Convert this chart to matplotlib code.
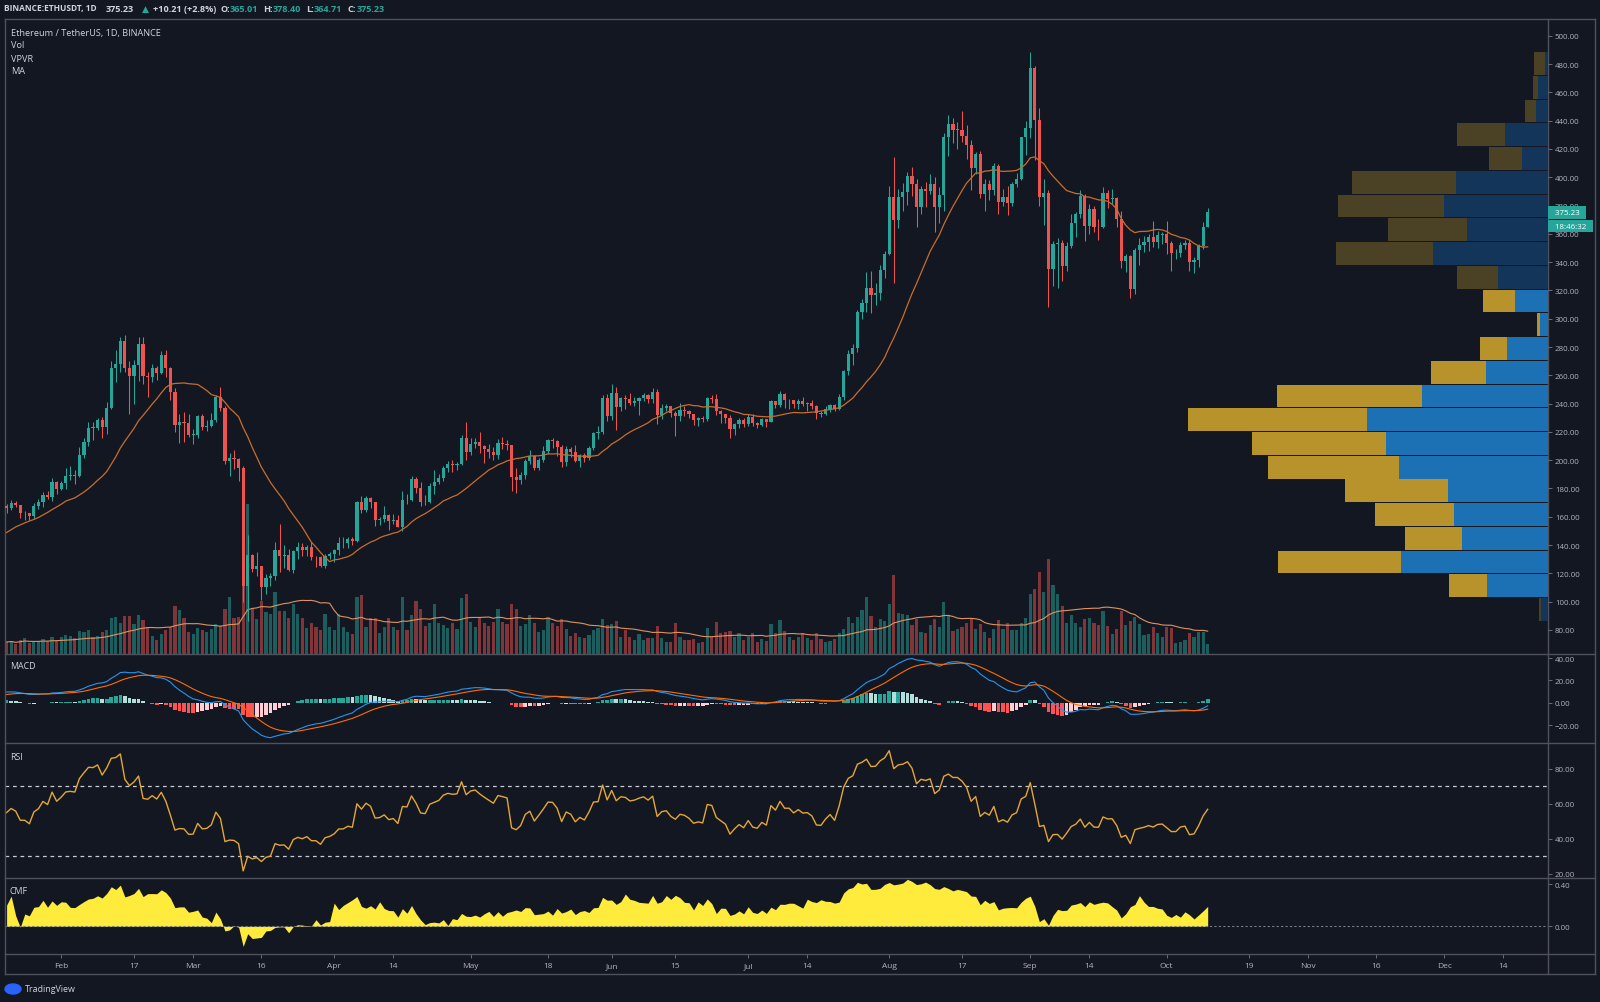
import numpy as np
import pandas as pd
import matplotlib
matplotlib.use("Agg")
import matplotlib.pyplot as plt
import matplotlib.dates as mdates
import matplotlib.transforms as mtransforms
from matplotlib.lines import Line2D
from matplotlib.patches import Ellipse
from matplotlib.ticker import StrMethodFormatter

plt.rcParams['font.family'] = ['Open Sans', 'DejaVu Sans']

BG = '#131722'
LINE = '#4f525d'
TXT = '#b2b5be'
UP = '#26a69a'
DOWN = '#ef5350'

# ---------------- data: Binance ETHUSDT, 1D ----------------
# closes before the first visible candle, only used to warm up MA / MACD / RSI
warmup_close = [130.8, 127.2, 134.3, 134.0, 135.1, 144.2, 142.8, 140.7, 137.7, 144.1,
                142.3, 146.5, 143.6, 165.6, 166.4, 163.8, 170.8, 174.0, 167.3]
start_date = '2020-01-20'

close = [
    # Jan 20-31
    166.4, 169.5, 168.0, 162.5, 162.5, 160.4, 167.8, 170.1, 175.6, 174.0, 184.7, 179.9,
    # Feb
    183.6, 188.6, 189.2, 188.9, 203.8, 212.7, 223.1, 223.0, 228.4, 223.5,
    236.8, 265.3, 268.3, 284.2, 264.9, 259.4, 267.4, 282.3, 259.6, 258.6,
    265.4, 261.9, 274.5, 265.0, 248.1, 224.9, 227.1, 226.5, 217.9,
    # Mar
    218.1, 231.3, 223.5, 224.1, 228.2, 244.7, 237.0, 199.4, 201.4, 200.7,
    194.6, 111.0, 133.2, 123.3, 125.2, 110.6, 116.7, 118.4, 136.5, 132.5,
    132.9, 122.5, 135.7, 138.9, 136.2, 138.9, 131.4, 131.3, 125.0, 132.1, 133.5,
    # Apr
    136.2, 141.3, 141.4, 144.0, 142.9, 170.1, 164.7, 173.1, 170.1, 157.8,
    158.4, 161.5, 156.7, 157.9, 153.1, 172.0, 171.6, 186.9, 180.3, 170.8,
    170.2, 182.1, 184.8, 187.3, 194.7, 197.3, 196.6, 197.2, 215.5, 205.9,
    # May
    211.6, 213.1, 210.3, 208.0, 205.9, 203.9, 212.4, 211.7, 210.9, 187.8,
    185.9, 189.4, 199.5, 202.7, 194.3, 200.0, 206.4, 214.1, 213.9, 209.6,
    198.5, 208.0, 206.1, 199.4, 203.5, 201.3, 208.6, 219.5, 219.9, 243.9, 231.5,
    # Jun
    247.3, 237.5, 244.2, 243.6, 240.4, 241.6, 244.2, 246.0, 243.6, 248.4,
    231.9, 237.2, 238.2, 233.4, 230.9, 235.5, 234.7, 232.4, 228.6, 229.6,
    228.9, 243.8, 243.2, 234.9, 232.4, 229.9, 221.7, 225.3, 228.3, 225.9,
    # Jul
    230.8, 226.0, 225.2, 228.9, 227.1, 241.6, 238.7, 246.7, 242.3, 242.3,
    239.4, 241.9, 239.9, 240.2, 238.4, 233.2, 233.0, 236.4, 239.0, 236.0,
    245.0, 262.7, 274.9, 279.2, 305.0, 311.0, 321.7, 317.0, 317.9, 334.4, 345.6,
    # Aug
    386.3, 370.0, 386.4, 389.4, 400.9, 394.9, 378.8, 391.8, 390.6, 395.1,
    379.3, 387.7, 428.6, 437.4, 433.4, 433.4, 429.5, 422.9, 406.5, 416.4,
    388.0, 395.5, 391.3, 408.0, 382.3, 386.3, 382.0, 395.0, 399.0, 428.3, 434.6,
    # Sep
    477.0, 440.2, 385.8, 388.6, 335.1, 352.9, 353.3, 337.4, 351.5, 368.0,
    373.9, 387.0, 365.6, 377.6, 365.2, 364.8, 389.2, 384.7, 385.1, 370.5,
    340.5, 344.3, 320.9, 348.9, 352.0, 354.2, 357.5, 354.4, 359.1, 359.8,
    # Oct 1-10
    353.2, 346.2, 346.2, 352.4, 353.6, 340.2, 341.2, 351.1, 365.01, 375.23,
]

high = [
    168.8, 171.6, 171.0, 168.2, 164.0, 163.0, 169.5, 172.8, 177.5, 178.0, 187.2, 185.6,
    185.0, 194.8, 195.9, 193.0, 209.0, 215.9, 227.0, 227.0, 230.0, 230.8,
    241.0, 270.0, 278.0, 287.0, 288.4, 270.0, 271.0, 287.0, 287.0, 262.5,
    268.3, 266.4, 277.0, 278.0, 266.0, 251.0, 232.5, 234.0, 233.0,
    222.0, 232.3, 232.8, 228.5, 233.3, 245.9, 251.7, 238.0, 205.0, 207.0,
    201.6, 196.0, 147.0, 134.0, 135.0, 125.5, 119.5, 120.0, 142.0, 155.0,
    140.0, 137.5, 136.5, 142.5, 141.5, 140.0, 142.0, 132.0, 132.5, 133.5, 135.0,
    137.0, 146.0, 145.8, 146.0, 146.0, 171.5, 175.0, 174.8, 174.0, 170.5,
    160.0, 167.4, 161.9, 162.3, 161.5, 178.2, 176.0, 189.0, 188.0, 184.5,
    175.5, 183.7, 193.0, 190.0, 196.0, 199.5, 200.0, 198.7, 218.0, 227.0,
    216.0, 215.5, 219.8, 211.0, 211.5, 209.5, 215.0, 216.5, 214.0, 211.0,
    194.5, 191.5, 201.0, 207.0, 203.5, 201.5, 210.0, 215.0, 216.0, 214.5,
    210.5, 210.0, 209.0, 211.0, 204.5, 205.0, 210.0, 220.0, 224.0, 246.0, 246.5,
    253.8, 252.0, 245.0, 246.0, 247.3, 245.0, 245.0, 247.5, 247.0, 251.1,
    250.0, 240.0, 239.8, 238.5, 234.6, 240.5, 238.0, 235.5, 233.0, 230.5,
    231.5, 245.0, 246.2, 247.0, 235.8, 233.0, 232.0, 226.5, 230.0, 229.5,
    232.5, 232.5, 227.0, 230.0, 229.0, 242.5, 242.0, 248.7, 247.8, 243.0,
    242.5, 243.0, 245.0, 241.4, 242.5, 238.8, 235.0, 238.0, 240.0, 240.0,
    246.8, 264.0, 278.0, 282.0, 306.0, 314.0, 333.0, 334.0, 325.0, 338.0, 348.0,
    394.0, 414.0, 392.0, 396.0, 404.0, 407.0, 399.0, 393.5, 397.0, 402.5,
    400.0, 393.0, 431.5, 444.0, 442.0, 439.0, 447.0, 437.0, 426.5, 418.0,
    418.5, 398.7, 398.0, 410.0, 409.5, 391.5, 394.0, 396.5, 403.0, 428.5, 440.0,
    488.84, 479.0, 449.0, 399.0, 391.0, 355.0, 357.0, 355.5, 354.0, 374.0,
    375.5, 391.0, 388.0, 381.0, 380.0, 370.5, 393.0, 391.0, 391.5, 386.0,
    376.0, 346.0, 345.0, 350.0, 357.0, 358.5, 360.0, 369.0, 362.0, 361.0,
    369.0, 355.0, 349.5, 354.0, 355.5, 356.0, 343.5, 353.0, 368.5, 378.40,
]

low = [
    162.8, 165.0, 166.6, 159.3, 158.0, 157.8, 158.5, 165.8, 166.7, 172.3, 170.9, 176.4,
    178.8, 179.5, 186.0, 183.4, 188.0, 201.8, 210.0, 214.0, 221.0, 216.0,
    218.5, 236.0, 255.0, 262.0, 262.2, 233.0, 240.0, 256.2, 254.0, 244.5,
    255.1, 256.5, 260.7, 259.0, 242.9, 220.0, 212.0, 213.0, 216.5,
    211.5, 216.0, 221.5, 220.3, 223.5, 226.8, 235.0, 197.5, 188.5, 194.0,
    185.0, 100.0, 86.0, 121.0, 118.0, 101.3, 105.6, 111.0, 115.0, 121.0,
    124.0, 122.0, 120.5, 130.5, 132.0, 132.5, 129.8, 124.7, 124.5, 123.5, 130.0,
    128.0, 133.0, 138.0, 137.6, 140.1, 142.5, 162.5, 163.6, 166.0, 153.5,
    154.0, 156.3, 150.5, 155.2, 152.5, 149.6, 169.2, 170.9, 177.0, 167.7,
    168.0, 169.5, 176.4, 183.2, 185.0, 192.0, 191.8, 192.8, 196.5, 200.0,
    204.0, 208.5, 205.0, 198.0, 201.5, 200.0, 201.0, 207.6, 207.5, 178.0,
    177.0, 183.5, 187.0, 197.0, 193.0, 193.0, 199.0, 204.7, 208.9, 203.0,
    195.0, 196.2, 202.5, 198.5, 195.5, 198.5, 200.0, 207.5, 215.0, 218.5, 228.0,
    228.5, 221.0, 234.5, 236.5, 239.3, 238.0, 232.0, 241.5, 240.3, 240.2,
    225.5, 229.2, 234.5, 230.5, 217.0, 228.0, 231.0, 230.0, 225.0, 224.5,
    227.0, 228.0, 240.5, 232.0, 226.0, 226.5, 216.0, 217.8, 222.5, 223.5,
    224.5, 224.0, 223.0, 224.5, 223.5, 227.0, 237.0, 237.7, 237.0, 236.0,
    237.0, 236.5, 238.0, 234.5, 236.0, 229.0, 230.5, 232.0, 233.8, 234.8,
    235.5, 242.5, 260.0, 267.0, 276.6, 300.0, 305.0, 304.0, 310.0, 313.5, 329.0,
    345.0, 325.0, 364.0, 376.0, 380.5, 387.0, 365.0, 374.0, 379.0, 388.0,
    361.0, 368.0, 376.0, 415.0, 424.0, 420.0, 425.0, 413.0, 391.0, 402.5,
    385.6, 376.0, 384.0, 387.8, 374.0, 380.0, 373.0, 380.0, 393.0, 398.0, 416.0,
    428.0, 412.0, 380.0, 366.0, 308.0, 323.0, 322.0, 327.0, 334.0, 350.0,
    358.0, 371.0, 355.0, 360.0, 361.5, 356.0, 364.0, 378.6, 381.0, 365.0,
    336.0, 333.0, 315.0, 317.7, 338.0, 347.0, 348.0, 351.0, 350.0, 352.5,
    346.0, 333.5, 342.5, 343.5, 349.0, 334.0, 332.0, 336.5, 349.0, 364.71,
]

# daily volume, relative units
volume = [
    12, 13, 10, 14, 16, 11, 12, 13, 15, 13, 17, 14,
    17, 19, 18, 16, 23, 22, 24, 17, 18, 22, 24, 36, 37, 31, 38, 38, 30, 39, 34, 26,
    18, 14, 20, 24, 27, 48, 44, 36, 22,
    20, 26, 24, 22, 25, 30, 28, 45, 57, 36, 37, 165, 150, 46, 35, 53, 42, 40, 62, 43,
    43, 36, 50, 40, 36, 26, 31, 27, 24, 40, 27,
    24, 40, 27, 22, 20, 57, 59, 27, 36, 36, 21, 27, 36, 27, 24, 57, 24, 39, 53, 45,
    28, 31, 50, 31, 29, 26, 31, 25, 56, 60,
    32, 27, 37, 31, 28, 32, 45, 32, 30, 50, 45, 28, 30, 39, 31, 22, 24, 37, 31, 28,
    35, 25, 18, 21, 17, 16, 19, 24, 26, 35, 29,
    30, 33, 17, 24, 17, 14, 20, 14, 16, 16, 28, 16, 12, 12, 31, 17, 14, 14, 15, 11,
    12, 26, 17, 32, 21, 22, 23, 17, 21, 14,
    17, 21, 12, 15, 13, 30, 21, 34, 23, 17, 14, 17, 21, 16, 14, 21, 15, 12, 13, 15,
    21, 25, 37, 31, 37, 44, 57, 38, 27, 35, 33,
    50, 79, 41, 40, 39, 29, 35, 22, 21, 29, 35, 27, 52, 39, 23, 25, 27, 31, 36, 25,
    30, 22, 16, 25, 34, 25, 31, 24, 24, 31, 36,
    60, 65, 82, 62, 95, 69, 60, 48, 31, 39, 31, 27, 35, 36, 31, 29, 43, 28, 20, 25,
    43, 29, 33, 37, 30, 19, 20, 27, 21, 17,
    27, 26, 11, 12, 14, 21, 17, 22, 22, 10,
]

# volume profile (visible range), 24 rows from lowest low to highest high
vp_up = [7, 61, 147, 86, 94, 100, 149, 162, 181, 126, 62, 41,
         8, 33, 50, 115, 81, 104, 92, 26, 43, 12, 10, 3]
vp_down = [2, 38, 123, 57, 79, 103, 131, 134, 179, 145, 55, 27,
           3, 32, 41, 97, 79, 106, 104, 33, 48, 11, 5, 11]
value_area = (1, 13)  # first / last row of the value area

tick_dates = ['2020-02-01', '2020-02-17', '2020-03-01', '2020-03-16', '2020-04-01',
              '2020-04-14', '2020-05-01', '2020-05-18', '2020-06-01', '2020-06-15',
              '2020-07-01', '2020-07-14', '2020-08-01', '2020-08-17', '2020-09-01',
              '2020-09-14', '2020-10-01', '2020-10-19', '2020-11-01', '2020-11-16',
              '2020-12-01', '2020-12-14']

assert len(close) == len(high) == len(low) == len(volume)

# ---------------- indicators ----------------
n_warm = len(warmup_close)
all_close = pd.Series(warmup_close + close)
ma20 = all_close.rolling(20).mean().iloc[n_warm:].to_numpy()
ema12 = all_close.ewm(span=12, adjust=False).mean()
ema26 = all_close.ewm(span=26, adjust=False).mean()
macd_all = ema12 - ema26
signal_all = macd_all.ewm(span=9, adjust=False).mean()
macd = macd_all.iloc[n_warm:].to_numpy()
signal = signal_all.iloc[n_warm:].to_numpy()
hist = macd - signal

delta = all_close.diff()
gain = delta.clip(lower=0).ewm(alpha=1 / 14, adjust=False).mean()
loss = (-delta.clip(upper=0)).ewm(alpha=1 / 14, adjust=False).mean()
rsi = (100 - 100 / (1 + gain / loss)).iloc[n_warm:].to_numpy()

c = np.array(close)
h = np.array(high)
l = np.array(low)
v = np.array(volume, dtype=float)
o = np.concatenate([[warmup_close[-1]], c[:-1]])
mfv = ((c - l) - (h - c)) / (h - l) * v
cmf = (pd.Series(mfv).rolling(20, min_periods=1).sum()
       / pd.Series(v).rolling(20, min_periods=1).sum()).to_numpy()
vol_ma = pd.Series(v).rolling(20, min_periods=1).mean().to_numpy()

dates = pd.date_range(start_date, periods=len(close), freq='D')
x = mdates.date2num(dates)
up = c >= o
colors = np.where(up, UP, DOWN)

# ---------------- layout ----------------
W, H = 1600, 1003
fig = plt.figure(figsize=(W / 100, H / 100), dpi=100, facecolor=BG)
X0, X1, XR = 5, 1548, 1595
Y_TOP, Y_P, Y_M, Y_R, Y_C, Y_T = 20.4, 655, 744.3, 879, 955, 975


def box(y0, y1):
    return [X0 / W, 1 - y1 / H, (X1 - X0) / W, (y1 - y0) / H]


ax_vol = fig.add_axes(box(Y_TOP, Y_P), zorder=1)
ax = fig.add_axes(box(Y_TOP, Y_P), sharex=ax_vol, zorder=2)
ax_vp = fig.add_axes(box(Y_TOP, Y_P), zorder=3)
ax_macd = fig.add_axes(box(Y_P, Y_M), sharex=ax_vol)
ax_rsi = fig.add_axes(box(Y_M, Y_R), sharex=ax_vol)
ax_cmf = fig.add_axes(box(Y_R, Y_C), sharex=ax_vol)

feb1 = mdates.date2num(pd.Timestamp('2020-02-01'))
ax_vol.set_xlim(feb1 - 12.35, feb1 + 326.8)

for a in (ax_vol, ax, ax_vp, ax_macd, ax_rsi, ax_cmf):
    a.set_facecolor(BG)
    for s in a.spines.values():
        s.set_visible(False)
    a.tick_params(axis='x', bottom=False, labelbottom=False)
    a.yaxis.tick_right()
    a.tick_params(axis='y', colors='#787b86', labelcolor=TXT, labelsize=5.7,
                  length=3, width=0.6, pad=2)
ax.patch.set_visible(False)
ax_vp.patch.set_visible(False)
ax_vol.set_yticks([])
ax_vp.set_xticks([])
ax_vp.set_yticks([])

# price pane
p_lim = (63.0, 511.6)
ax.set_ylim(p_lim)
ax.set_yticks(np.arange(80, 501, 20))
ax.yaxis.set_major_formatter(StrMethodFormatter('{x:.2f}'))
ax.vlines(x, l, h, colors=colors, lw=0.75)
ax.bar(x, np.maximum(np.abs(c - o), 0.4), bottom=np.minimum(o, c), width=0.7,
       color=colors, lw=0)
ax.plot(x, ma20, color='#c96d2c', lw=0.9)

# volume
ax_vol.bar(x, v, width=0.7, color=colors, alpha=0.5, lw=0)
ax_vol.plot(x, vol_ma, color='#e0935c', lw=0.8)
ax_vol.set_ylim(0, 635)

# VPVR
edges = np.linspace(l.min(), h.max(), len(vp_up) + 1)
row_h = edges[1] - edges[0]
in_va = [value_area[0] <= i <= value_area[1] for i in range(len(vp_up))]
up_cols = ['#1b71b3' if f else '#13355a' for f in in_va]
dn_cols = ['#b8922b' if f else '#4b4125' for f in in_va]
ax_vp.barh(edges[:-1] + 0.35, vp_up, height=row_h - 0.7, align='edge', color=up_cols, lw=0)
ax_vp.barh(edges[:-1] + 0.35, vp_down, left=vp_up, height=row_h - 0.7, align='edge',
           color=dn_cols, lw=0)
ax_vp.set_xlim(X1 - X0, 0)
ax_vp.set_ylim(p_lim)

# last price + countdown labels
trans = mtransforms.blended_transform_factory(ax.transAxes, ax.transData)
for txt, dy in [(f'{c[-1]:.2f}', 0), ('18:46:32', -9.9)]:
    ax.annotate(f'  {txt}  ', xy=(1, c[-1]), xycoords=trans, xytext=(2.0, dy),
                textcoords='offset points', ha='left', va='center', fontsize=5.7,
                color='white', annotation_clip=False,
                bbox=dict(boxstyle='square,pad=0.35', fc=UP, ec='none'))

# MACD
prev = np.concatenate([[hist[0]], hist[:-1]])
hist_cols = np.where(hist >= 0, np.where(hist >= prev, '#26a69a', '#b2dfdb'),
                     np.where(hist < prev, '#ff5252', '#ffcdd2'))
ax_macd.bar(x, hist, width=0.8, color=hist_cols, lw=0)
ax_macd.plot(x, macd, color='#2196f3', lw=0.8)
ax_macd.plot(x, signal, color='#ff6d00', lw=0.8)
ax_macd.set_ylim(-36.1, 43.6)
ax_macd.set_yticks([-20, 0, 20, 40])
ax_macd.yaxis.set_major_formatter(StrMethodFormatter('{x:.2f}'))

# RSI
ax_rsi.axhline(70, color='#c9ccd3', lw=0.9, ls=(0, (3, 3)))
ax_rsi.axhline(30, color='#c9ccd3', lw=0.9, ls=(0, (3, 3)))
ax_rsi.plot(x, rsi, color='#e5a734', lw=1.0)
ax_rsi.set_ylim(17.7, 94.5)
ax_rsi.set_yticks([20, 40, 60, 80])
ax_rsi.yaxis.set_major_formatter(StrMethodFormatter('{x:.2f}'))

# CMF
ax_cmf.axhline(0, color='#787b86', lw=0.8, ls=(0, (2, 2)))
ax_cmf.fill_between(x, cmf, 0, color='#ffeb3b', lw=0)
ax_cmf.set_ylim(-0.262, 0.457)
ax_cmf.set_yticks([0, 0.4])
ax_cmf.yaxis.set_major_formatter(StrMethodFormatter('{x:.2f}'))

# time axis
tks = pd.to_datetime(tick_dates)
ax_cmf.set_xticks(mdates.date2num(tks))
ax_cmf.set_xticklabels([d.strftime('%b') if d.day == 1 else str(d.day) for d in tks])
ax_cmf.tick_params(axis='x', bottom=True, labelbottom=True, colors='#787b86',
                   labelcolor=TXT, labelsize=6, length=3, width=0.6, pad=3)

# pane frame
for yy in (Y_TOP, Y_P, Y_M, Y_R, Y_C, Y_T):
    fig.add_artist(Line2D([X0 / W, XR / W], [1 - yy / H] * 2, color=LINE, lw=1.0))
for xx in (X0, X1, XR):
    fig.add_artist(Line2D([xx / W] * 2, [1 - Y_TOP / H, 1 - Y_T / H], color=LINE, lw=1.0))

# header
header = [('BINANCE:ETHUSDT, 1D', 4, '#d1d4dc', 6.0), ('375.23', 106, '#d1d4dc', 6.6),
          ('\u25b2', 141.7, UP, 6.6), ('+10.21 (+2.8%)', 152.7, '#d1d4dc', 6.6),
          ('O:', 220, '#d1d4dc', 6.6), ('365.01', 230, UP, 6.6),
          ('H:', 263.3, '#d1d4dc', 6.6), ('378.40', 272.7, UP, 6.6),
          ('L:', 306, '#d1d4dc', 6.6), ('364.71', 313.3, UP, 6.6),
          ('C:', 347.7, '#d1d4dc', 6.6), ('375.23', 356.7, UP, 6.6)]
for s, xp, col, fs in header:
    fig.text(xp / W, 1 - 9 / H, s, color=col, fontsize=fs, fontweight='bold',
             ha='left', va='center')

for s, yp in [('Ethereum / TetherUS, 1D, BINANCE', 33.3), ('Vol', 45.7),
              ('VPVR', 59), ('MA', 71.7)]:
    fig.text(11 / W, 1 - yp / H, s, color='#d1d4dc', fontsize=6.6, ha='left', va='center')
for s, yp in [('MACD', 667), ('RSI', 757.7), ('CMF', 892)]:
    fig.text(10 / W, 1 - yp / H, s, color='#d1d4dc', fontsize=6.4, ha='left', va='center')

# TradingView mark
fig.add_artist(Ellipse((13 / W, 1 - 990 / H), 16 / W, 10 / H, color='#2962ff'))
fig.text(25 / W, 1 - 990 / H, 'TradingView', color='#d1d4dc', fontsize=6.4,
         ha='left', va='center')

fig.savefig('out.png', dpi=100, facecolor=BG)
